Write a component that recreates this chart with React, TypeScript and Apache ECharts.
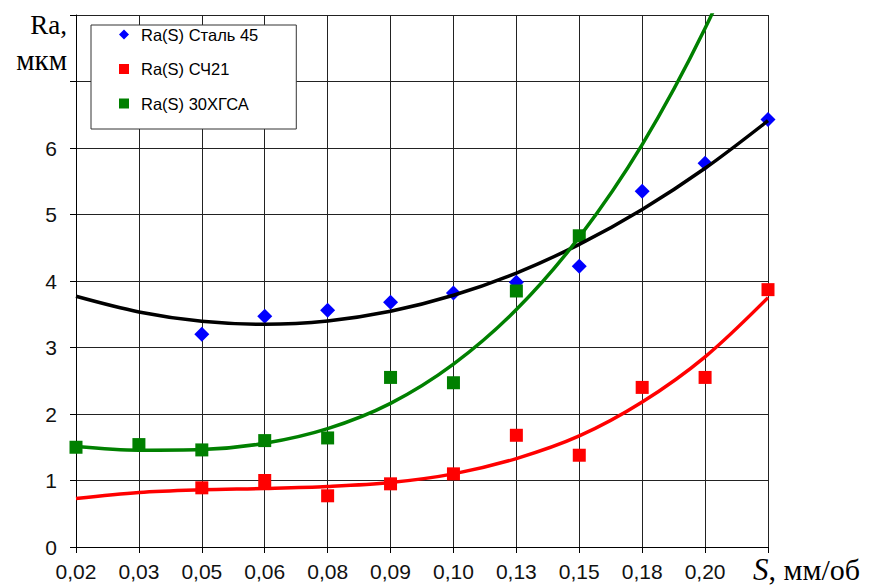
import React, { useEffect, useRef } from "react";
import * as echarts from "echarts";

// Feed rate S, mm/rev (category axis; last position unlabeled)
const categories = ["0,02", "0,03", "0,05", "0,06", "0,08", "0,09", "0,10", "0,13", "0,15", "0,18", "0,20", ""];

// Measured Ra, µm
const steel45 = [null, null, 3.2, 3.47, 3.56, 3.68, 3.82, 3.98, 4.22, 5.35, 5.77, 6.43];
const sch21 = [null, null, 0.89, 1.0, 0.77, 0.95, 1.1, 1.68, 1.38, 2.4, 2.55, 3.87];
const hgsa30 = [1.5, 1.54, 1.46, 1.6, 1.64, 2.55, 2.47, 3.85, 4.68, null, null, null];

// Trend lines at each category
const steel45Trend = [3.77, 3.535, 3.395, 3.35, 3.4, 3.545, 3.785, 4.12, 4.55, 5.075, 5.695, 6.41];
const sch21Trend = [0.73, 0.82, 0.86, 0.88, 0.91, 0.97, 1.1, 1.33, 1.67, 2.18, 2.86, 3.75];
const hgsa30Trend = [1.51, 1.455, 1.465, 1.56, 1.78, 2.16, 2.75, 3.57, 4.66, 6.05, 7.8, 9.92];

const seriesNames = ["Ra(S) Сталь 45", "Ra(S) СЧ21", "Ra(S) 30ХГСА"];
const yTicksHidden = [7, 8];

export default function App() {
  const ref = useRef<HTMLDivElement>(null);
  useEffect(() => {
    if (!ref.current) return;
    const chart = echarts.init(ref.current, null, { renderer: "svg" });
    const gridColor = "#222";
    const trend = (name: string, data: number[], color: string) => ({
      name,
      type: "line",
      data,
      smooth: 0.33,
      showSymbol: false,
      lineStyle: { color, width: 3.5 },
      itemStyle: { color },
      z: 3,
      clip: true,
    });
    chart.setOption({
      animation: false,
      backgroundColor: "#fff",
      grid: { left: 76, right: 101, top: 15, bottom: 40 },
      legend: {
        orient: "vertical",
        left: 91,
        top: 25,
        backgroundColor: "#fff",
        borderColor: "#333",
        borderWidth: 1,
        borderRadius: 0,
        padding: [1, 38, 17, 28],
        itemWidth: 10,
        itemHeight: 10,
        itemGap: 17.5,
        textStyle: { fontFamily: "Liberation Sans", fontSize: 16.5, color: "#000", padding: [0, 0, 0, 7] },
        data: [
          { name: seriesNames[0], icon: "diamond" },
          { name: seriesNames[1], icon: "rect" },
          { name: seriesNames[2], icon: "rect" },
        ],
      },
      xAxis: {
        type: "category",
        data: categories,
        boundaryGap: false,
        axisLine: { lineStyle: { color: "#000", width: 1 } },
        axisTick: { show: true, length: 6, inside: false, lineStyle: { color: "#000" } },
        axisLabel: { interval: 0, margin: 14, fontFamily: "Liberation Sans", fontSize: 21, color: "#111" },
        splitLine: { show: true, lineStyle: { color: gridColor, width: 1 } },
      },
      yAxis: {
        type: "value",
        min: 0,
        max: 8,
        interval: 1,
        axisLine: { show: true, lineStyle: { color: "#000", width: 1 } },
        axisTick: { show: true, length: 6, lineStyle: { color: "#000" } },
        axisLabel: {
          margin: 19,
          fontFamily: "Liberation Sans",
          fontSize: 21,
          color: "#111",
          formatter: (v: number) => (yTicksHidden.includes(v) ? "" : String(v)),
        },
        splitLine: { show: true, lineStyle: { color: gridColor, width: 1 } },
      },
      graphic: [
        {
          type: "text",
          x: 67,
          y: 25,
          style: { text: "Ra,", fontFamily: "Liberation Serif", fontSize: 27, fill: "#000", align: "right", verticalAlign: "middle" },
        },
        {
          type: "text",
          x: 67,
          y: 60,
          style: { text: "мкм", fontFamily: "Liberation Serif", fontSize: 29, fill: "#000", align: "right", verticalAlign: "middle" },
        },
        {
          type: "text",
          x: 753,
          y: 569,
          style: {
            text: "{i|S}, мм/об",
            fontFamily: "Liberation Serif",
            fontSize: 30,
            fill: "#000",
            align: "left",
            verticalAlign: "middle",
            rich: { i: { fontFamily: "Liberation Serif", fontStyle: "italic", fontSize: 31, fill: "#000" } },
          },
        },
      ],
      series: [
        { name: seriesNames[0], type: "scatter", data: steel45, symbol: "diamond", symbolSize: 15, itemStyle: { color: "#0000ff", opacity: 1 }, z: 2 },
        { name: seriesNames[1], type: "scatter", data: sch21, symbol: "rect", symbolSize: 13, itemStyle: { color: "#ff0000", opacity: 1 }, z: 2 },
        { name: seriesNames[2], type: "scatter", data: hgsa30, symbol: "rect", symbolSize: 13, itemStyle: { color: "#008000", opacity: 1 }, z: 2 },
        trend("trend1", steel45Trend, "#000"),
        trend("trend2", sch21Trend, "#ff0000"),
        trend("trend3", hgsa30Trend, "#008000"),
      ],
    });
    return () => chart.dispose();
  }, []);
  return <div ref={ref} style={{ width: 869, height: 587, position: "absolute", left: 0, top: 0 }} />;
}
